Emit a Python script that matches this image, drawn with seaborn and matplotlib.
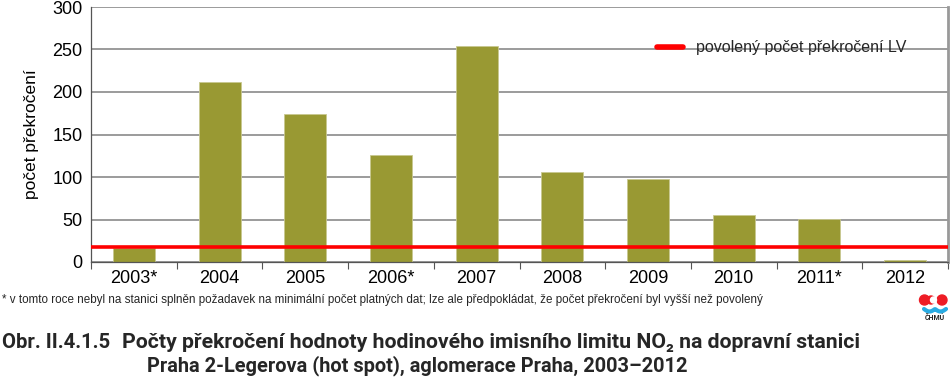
import matplotlib
matplotlib.use("Agg")
import matplotlib.pyplot as plt
import seaborn as sns
import pandas as pd
import numpy as np
from matplotlib.patches import Circle

years = ["2003*", "2004", "2005", "2006*", "2007", "2008", "2009", "2010", "2011*", "2012"]
counts = [17, 212, 174, 126, 254, 106, 98, 55, 51, 2]
limit = 18
legend_label = "povolený počet překročení LV"
ylabel = "počet překročení"
footnote = "* v tomto roce nebyl na stanici splněn požadavek na minimální počet platných dat; lze ale předpokládat, že počet překročení byl vyšší než povolený"
fig_no = "Obr. II.4.1.5"
title1 = "Počty překročení hodnoty hodinového imisního limitu NO₂ na dopravní stanici"
title2 = "Praha 2-Legerova (hot spot), aglomerace Praha, 2003–2012"

sns.set_theme(style="white")
plt.rcParams['font.family'] = ['Liberation Sans', 'DejaVu Sans']

df = pd.DataFrame({"year": years, "count": counts})

W, H = 950, 377
fig = plt.figure(figsize=(W/100, H/100), dpi=100)
ax = fig.add_axes([91/W, 1-262/H, (948-91)/W, (262-7)/H])

sns.barplot(data=df, x="year", y="count", color="#999933", width=0.49,
            saturation=1, ax=ax, zorder=2, edgecolor="#c8c890", linewidth=0.6)
ax.axhline(limit, color="#ff0000", lw=2.6, zorder=3, label=legend_label)

ax.set_ylim(0, 300)
ax.set_xlim(-0.5, len(years) - 0.5)
ax.set_yticks(range(0, 301, 50))
ax.yaxis.grid(True, color="#808080", lw=1.1, zorder=0)
ax.set_axisbelow(True)
ax.set_xlabel("")
ax.set_ylabel(ylabel, fontsize=12.5, color="#000000", labelpad=10)
ax.tick_params(axis="y", labelsize=13, colors="#000000", length=0, pad=6)
ax.tick_params(axis="x", labelsize=13, colors="#000000", length=0, pad=6)

ax.set_xticks([i - 0.5 for i in range(len(years) + 1)], minor=True)
ax.tick_params(axis="x", which="minor", length=5, width=0.8, color="#555555", direction="out", bottom=True)

for s in ["left", "bottom"]:
    ax.spines[s].set_color("#555555")
    ax.spines[s].set_linewidth(0.9)
ax.spines["top"].set_visible(False)
ax.spines["right"].set_color("#999999")
ax.spines["right"].set_linewidth(2)

leg = ax.legend(loc="upper right", bbox_to_anchor=(0.968, 0.925), frameon=False,
                fontsize=11.5, handlelength=1.6, handletextpad=0.8)
for h in leg.get_lines():
    h.set_linewidth(4)

fig.text(2/W, 1-300/H, footnote, fontsize=8.4, ha="left", va="center")

tfam = ["Roboto", "DejaVu Sans"]
fig.text(2/W, 1-348/H, fig_no, fontsize=14.6, weight="bold", ha="left", va="baseline", family=tfam)
fig.text(122/W, 1-348/H, title1, fontsize=15.3, weight="bold", ha="left", va="baseline", family=tfam)
fig.text(147/W, 1-371/H, title2, fontsize=14.4, weight="bold", ha="left", va="baseline", family=tfam)

# logo (drawn in pixel space)
def px(x, y):
    return (x/100, (H - y)/100)
for (cx, cy, r) in [(924.5, 300, 5), (942, 300, 5), (931, 300, 4)]:
    fig.patches.append(Circle(px(cx, cy), r/100, transform=fig.dpi_scale_trans, color="#ee1c25"))
fig.patches.append(Circle(px(933.5, 300), 3/100, transform=fig.dpi_scale_trans, color="white"))
xs = np.linspace(924, 946, 40)
ys = 309 + 2.5*np.abs(np.sin((xs-924)/22*2*np.pi))
pts = [px(x, y) for x, y in zip(xs, ys)]
fig.lines.append(plt.Line2D([p[0] for p in pts], [p[1] for p in pts], transform=fig.dpi_scale_trans,
                            color="#29abe2", lw=3))
fig.text(935/W, 1-318/H, "ČHMÚ", fontsize=5, weight="bold", ha="center", va="center", family=tfam)

fig.savefig("out.png", dpi=100)
